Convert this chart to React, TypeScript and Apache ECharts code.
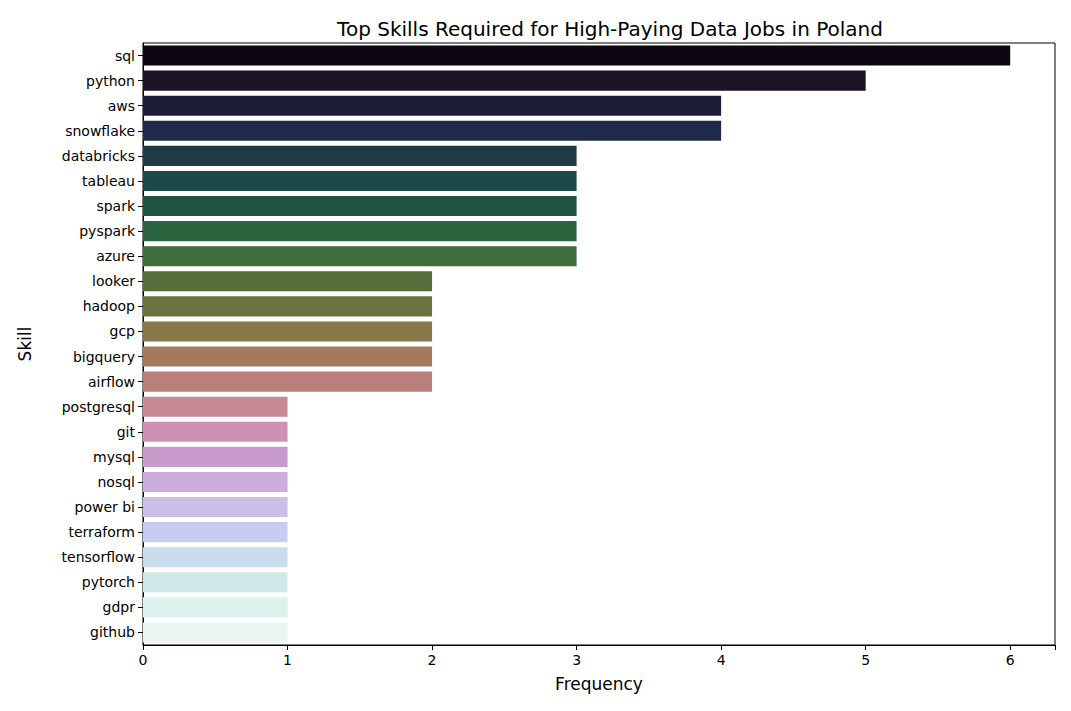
import { useEffect, useRef } from 'react';
import * as echarts from 'echarts';

const skills = ['sql', 'python', 'aws', 'snowflake', 'databricks', 'tableau', 'spark', 'pyspark', 'azure', 'looker', 'hadoop', 'gcp', 'bigquery', 'airflow', 'postgresql', 'git', 'mysql', 'nosql', 'power bi', 'terraform', 'tensorflow', 'pytorch', 'gdpr', 'github'];
const frequency = [6, 5, 4, 4, 3, 3, 3, 3, 3, 2, 2, 2, 2, 2, 1, 1, 1, 1, 1, 1, 1, 1, 1, 1];
const barColors = ['#0c0610', '#1b1224', '#1e1d38', '#1f2a4a', '#1e3a45', '#1b4a48', '#1f5540', '#2d6440', '#3f6e3c', '#566f3a', '#6b7440', '#857747', '#a27a5e', '#b9807b', '#c88996', '#cc91b5', '#c99bcc', '#cbaedd', '#cabfe8', '#c7cdee', '#c8dcec', '#d0e8ea', '#ddf1ec', '#ecf6f0'];
const xTicks = [0, 1, 2, 3, 4, 5, 6];

export default function App() {
  const chartRef = useRef<HTMLDivElement>(null);

  useEffect(() => {
    if (!chartRef.current) return;
    const chart = echarts.init(chartRef.current, null, { renderer: 'svg' });
    const font = 'DejaVu Sans';

    chart.setOption({
      animation: false,
      textStyle: { fontFamily: font },
      title: {
        text: 'Top Skills Required for High-Paying Data Jobs in Poland',
        left: 597,
        textAlign: 'center',
        top: 6,
        textStyle: { fontFamily: font, fontSize: 20, fontWeight: 'normal', color: '#000' },
      },
      grid: { left: 132, right: 8, top: 35, bottom: 58, show: true, borderColor: '#000', borderWidth: 1, backgroundColor: 'transparent' },
      xAxis: {
        type: 'value',
        min: 0,
        max: 6.31,
        interval: 1,
        name: 'Frequency',
        nameLocation: 'middle',
        nameGap: 30,
        nameTextStyle: { fontFamily: font, fontSize: 17, color: '#000' },
        axisLine: { show: true, lineStyle: { color: '#000' } },
        axisTick: { show: true, length: 5, lineStyle: { color: '#000' } },
        axisLabel: {
          fontFamily: font, fontSize: 14, color: '#000', margin: 8,
          formatter: (v: number) => (xTicks.includes(v) ? String(v) : ''),
        },
        splitLine: { show: false },
      },
      yAxis: {
        type: 'category',
        data: skills,
        inverse: true,
        name: 'Skill',
        nameLocation: 'middle',
        nameGap: 110,
        nameTextStyle: { fontFamily: font, fontSize: 17, color: '#000' },
        axisLine: { show: true, lineStyle: { color: '#000' } },
        axisTick: { show: true, alignWithLabel: true, length: 5, lineStyle: { color: '#000' } },
        axisLabel: { fontFamily: font, fontSize: 14, color: '#000', margin: 8 },
      },
      series: [
        {
          type: 'bar',
          data: frequency.map((v, i) => ({ value: v, itemStyle: { color: barColors[i] } })),
          barCategoryGap: '20%',
        },
      ],
    });

    return () => chart.dispose();
  }, []);

  return <div ref={chartRef} style={{ width: 1055, height: 695 }} />;
}
